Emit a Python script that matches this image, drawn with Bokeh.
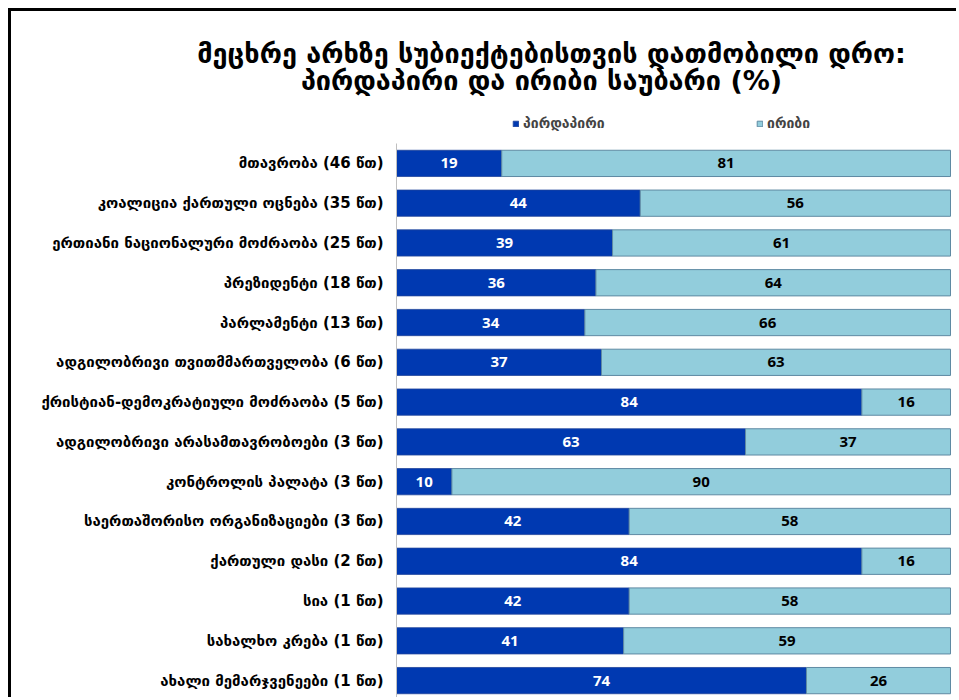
import numpy as np
from bokeh.plotting import figure
from bokeh.models import (ColumnDataSource, Legend, LegendItem, Label, LabelSet,
                          FixedTicker, Range1d)
from bokeh.core.properties import value
from bokeh.embed import file_html
from bokeh.resources import INLINE

title_line1 = "მეცხრე არხზე სუბიექტებისთვის დათმობილი დრო:"
title_line2 = "პირდაპირი და ირიბი საუბარი (%)"
series_names = ["პირდაპირი", "ირიბი"]

categories = [
    "მთავრობა (46 წთ)",
    "კოალიცია ქართული ოცნება (35 წთ)",
    "ერთიანი ნაციონალური მოძრაობა (25 წთ)",
    "პრეზიდენტი (18 წთ)",
    "პარლამენტი (13 წთ)",
    "ადგილობრივი თვითმმართველობა (6 წთ)",
    "ქრისტიან-დემოკრატიული მოძრაობა (5 წთ)",
    "ადგილობრივი არასამთავრობოები (3 წთ)",
    "კონტროლის პალატა (3 წთ)",
    "საერთაშორისო ორგანიზაციები (3 წთ)",
    "ქართული დასი (2 წთ)",
    "სია (1 წთ)",
    "სახალხო კრება (1 წთ)",
    "ახალი მემარჯვენეები (1 წთ)",
]
direct = [19, 44, 39, 36, 34, 37, 84, 63, 10, 42, 84, 42, 41, 74]
indirect = [81, 56, 61, 64, 66, 63, 16, 37, 90, 58, 16, 58, 59, 26]

DARK = "#0039B1"
LIGHT = "#92CDDC"

n = len(categories)
ypos = np.arange(n)[::-1].astype(float)   # first category at the top
d = np.array(direct, dtype=float)
ind = np.array(indirect, dtype=float)
src = ColumnDataSource(dict(
    y=ypos,
    d0=np.zeros(n), d1=d, i0=d, i1=d + ind,
    dmid=d / 2, imid=d + ind / 2,
    dlab=[str(v) for v in direct], ilab=[str(v) for v in indirect],
))

# canvas geometry (the frame covers the whole canvas)
W, H = 948, 689
X0_PX, X100_PX = 385, 939          # pixel columns of 0 % and 100 %
PLOT_PX = 557                      # height of the bar area in pixels
px_per_unit = (X100_PX - X0_PX) / 100.0
x_start = -X0_PX / px_per_unit
x_end = 100 + (W - X100_PX) / px_per_unit
row_px = PLOT_PX / n
y_end = -0.5 + H / row_px

p = figure(width=W, height=H, output_backend="svg", toolbar_location=None,
           x_range=Range1d(x_start, x_end), y_range=Range1d(-0.5, y_end),
           min_border_left=0, min_border_right=0, min_border_top=0, min_border_bottom=0)
p.styles = {"margin-left": "8px", "margin-top": "8px",
            "border-left": "3px solid black", "border-top": "3px solid black"}
p.outline_line_color = None
p.xaxis.visible = False
p.xgrid.visible = False
p.ygrid.visible = False

r1 = p.hbar(y="y", left="d0", right="d1", height=0.66, source=src,
            fill_color=DARK, line_color="#20449A", line_width=0.8)
r2 = p.hbar(y="y", left="i0", right="i1", height=0.66, source=src,
            fill_color=LIGHT, line_color="#5F8AA3", line_width=1)

p.add_layout(LabelSet(x="dmid", y="y", text="dlab", source=src, text_align="center",
                      text_baseline="middle", text_color="white",
                      text_font=value("Open Sans"), text_font_style="bold",
                      text_font_size="15px"))
p.add_layout(LabelSet(x="imid", y="y", text="ilab", source=src, text_align="center",
                      text_baseline="middle", text_color="black",
                      text_font=value("Open Sans"), text_font_style="bold",
                      text_font_size="15px"))

ax = p.yaxis[0]
ax.fixed_location = 0
ax.ticker = FixedTicker(ticks=list(ypos))
ax.major_label_overrides = {float(yv): c for yv, c in zip(ypos, categories)}
ax.bounds = (-0.5, n - 0.5)
ax.major_tick_line_color = None
ax.major_tick_out = 0
ax.major_tick_in = 0
ax.minor_tick_line_color = None
ax.axis_line_color = "#BFBFBF"
ax.major_label_text_font = "DejaVu Sans"
ax.major_label_text_font_style = "bold"
ax.major_label_text_font_size = "15px"
ax.major_label_text_color = "black"
ax.major_label_standoff = 13

def make_legend(label, rend, x):
    return Legend(items=[LegendItem(label=label, renderers=[rend])],
                  location=(x, H - 120), orientation="horizontal",
                  glyph_width=7, glyph_height=7, label_height=12,
                  label_text_font="DejaVu Sans", label_text_font_style="bold",
                  label_text_font_size="14px", label_standoff=4,
                  border_line_color=None, background_fill_alpha=0,
                  padding=0, margin=0)

p.add_layout(make_legend(series_names[0], r1, 501))
p.add_layout(make_legend(series_names[1], r2, 745))

p.add_layout(Label(x=540, y=H - 42, x_units="screen", y_units="screen", text=title_line1,
                   text_align="center", text_baseline="middle", text_font="DejaVu Sans",
                   text_font_style="bold", text_font_size="27px", text_color="black"))
p.add_layout(Label(x=530, y=H - 69, x_units="screen", y_units="screen", text=title_line2,
                   text_align="center", text_baseline="middle", text_font="DejaVu Sans",
                   text_font_style="bold", text_font_size="27px", text_color="black"))

open("out.html", "w").write(file_html(p, INLINE))
